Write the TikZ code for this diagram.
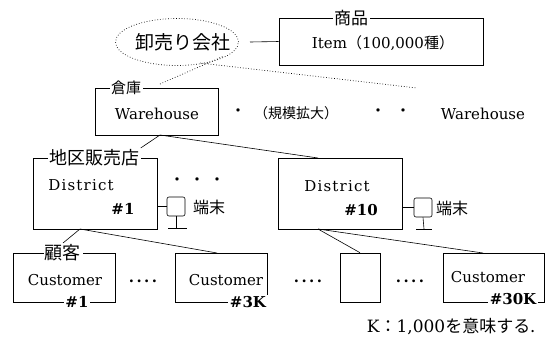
\documentclass[tikz,border=0pt]{standalone}
\usepackage{fontspec}
\setmainfont{DejaVu Serif}
\newfontfamily\jp{Noto Sans CJK JP}
\usetikzlibrary{shapes.geometric}
\begin{document}
\begin{tikzpicture}[x=1pt,y=-1pt,
  box/.style={draw, line width=0.6pt, inner sep=0pt},
  lbl/.style={fill=white, inner sep=1.5pt, font=\jp\fontsize{17}{19}\selectfont},
  txt/.style={inner sep=0pt, font=\fontsize{15}{18}\selectfont},
  jtxt/.style={inner sep=0pt, font=\jp\fontsize{16}{18}\selectfont},
  num/.style={fill=white, inner sep=1.5pt, font=\bfseries\fontsize{15}{18}\selectfont},
  conn/.style={line width=0.6pt},
  dotl/.style={line width=0.7pt, dotted},
  term/.style={draw, line width=0.6pt, rounded corners=2pt, minimum width=18pt, minimum height=19pt, inner sep=0pt}
]
\useasboundingbox (0,0) rectangle (555,338);

% top row
\node[draw, dotted, line width=0.7pt, ellipse, minimum width=123pt, minimum height=47pt, inner sep=0pt] (ell) at (177,42) {};
\node[jtxt, font=\jp\fontsize{19}{21}\selectfont] (elltxt) at (183,42) {卸売り会社};
\node[box, minimum width=204pt, minimum height=47pt] (item) at (381,41.5) {};
\node[lbl] (itemlbl) at (351,18) {商品};
\node[txt] (itemtxt) at (383,43) {Item{\jp （}100,000{\jp 種）}};
\coordinate (ellout) at (250,42);
\draw[conn] (ellout) -- (item.west);

% dotted lines
\coordinate (dA) at (160,84);
\coordinate (dB) at (224,56);
\coordinate (dC) at (200,63);
\coordinate (dD) at (417,88);
\draw[dotl] (dA) -- (dB);
\draw[dotl] (dC) -- (dD);

% warehouse row
\node[box, minimum width=123pt, minimum height=47pt] (wh) at (156.5,111.5) {};
\node[lbl, font=\jp\fontsize{15}{17}\selectfont] (whlbl) at (126,88) {倉庫};
\node[txt] (whtxt) at (157,114) {Warehouse};
\node[jtxt] (dot1) at (238,113) {・};
\node[jtxt, font=\jp\fontsize{14}{16}\selectfont] (scale) at (296,113) {（規模拡大）};
\node[jtxt] (dot2) at (378,113) {・};
\node[jtxt] (dot3) at (403,113) {・};
\node[txt] (wh2) at (483,114) {Warehouse};

% district row
\node[box, minimum width=124pt, minimum height=71pt] (d1) at (95,193.5) {};
\node[lbl, font=\jp\fontsize{18}{20}\selectfont] (d1lbl) at (94,158) {地区販売店};
\node[txt, font=\fontsize{15}{18}\selectfont\addfontfeature{LetterSpace=8}] (d1txt) at (81,185) {District};
\node[num, fill=none] (d1num) at (123,209) {\#1};
\node[jtxt] (dd1) at (177,182) {・};
\node[jtxt] (dd2) at (197,182) {・};
\node[jtxt] (dd3) at (217,182) {・};
\node[term] (t1) at (176,206.5) {};
\node[jtxt] (t1txt) at (209,207) {端末};
\coordinate (t1b) at (176,228);
\coordinate (t1l) at (168,228);
\coordinate (t1r) at (187,228);
\draw[conn] (d1.east |- t1) -- (t1.west);
\draw[conn] (t1.south) -- (t1b);
\draw[conn] (t1l) -- (t1r);

\node[box, minimum width=124pt, minimum height=71pt] (d10) at (340,193.5) {};
\node[txt, font=\fontsize{15}{18}\selectfont\addfontfeature{LetterSpace=8}] (d10txt) at (337,186) {District};
\node[num, fill=none] (d10num) at (361,210) {\#10};
\node[term] (t2) at (423,207.5) {};
\node[jtxt] (t2txt) at (452,208) {端末};
\coordinate (t2b) at (424,229);
\coordinate (t2l) at (416,229);
\coordinate (t2r) at (432,229);
\draw[conn] (d10.east |- t2) -- (t2.west);
\draw[conn] (t2.south) -- (t2b);
\draw[conn] (t2l) -- (t2r);

% warehouse -> districts
\coordinate (whj) at (160,135);
\draw[conn] (whj) -- (d1lbl.north east);
\draw[conn] (whj) -- (318,158);

% customer row
\node[box, minimum width=102pt, minimum height=49pt] (c1) at (64,277.5) {};
\node[lbl, font=\jp\fontsize{18}{20}\selectfont] (c1lbl) at (63,253) {顧客};
\node[txt] (c1txt) at (65,280) {Customer};
\node[num] (c1num) at (77,302) {\#1};
\node[txt, font=\bfseries\fontsize{15}{18}\selectfont] (cd1) at (143,281) {.\,.\,.\,.};
\node[box, minimum width=92pt, minimum height=49pt] (c3) at (221,277.5) {};
\node[txt] (c3txt) at (226,280) {Customer};
\node[num] (c3num) at (248,302) {\#3K};
\node[txt, font=\bfseries\fontsize{15}{18}\selectfont] (cd2) at (308,281) {.\,.\,.\,.};
\node[box, minimum width=40pt, minimum height=49pt] (cb) at (360,277.5) {};
\node[txt, font=\bfseries\fontsize{15}{18}\selectfont] (cd3) at (410,281) {.\,.\,.\,.};
\node[box, minimum width=101pt, minimum height=49pt] (c30) at (493.5,277.5) {};
\node[txt] (c30txt) at (488,277) {Customer};
\node[num] (c30num) at (513,299) {\#30K};

% district -> customers
\coordinate (d1j) at (80,229);
\draw[conn] (d1j) -- (c1lbl.north);
\draw[conn] (d1j) -- (217,253);
\coordinate (d10j) at (318,229);
\draw[conn] (d10j) -- (cb.north);
\draw[conn] (d10j) -- (483,253);

% note
\node[txt, font=\fontsize{17}{19}\selectfont] (note) at (451,327) {K{\jp ：}1,000{\jp を意味する.}};
\end{tikzpicture}
\end{document}
